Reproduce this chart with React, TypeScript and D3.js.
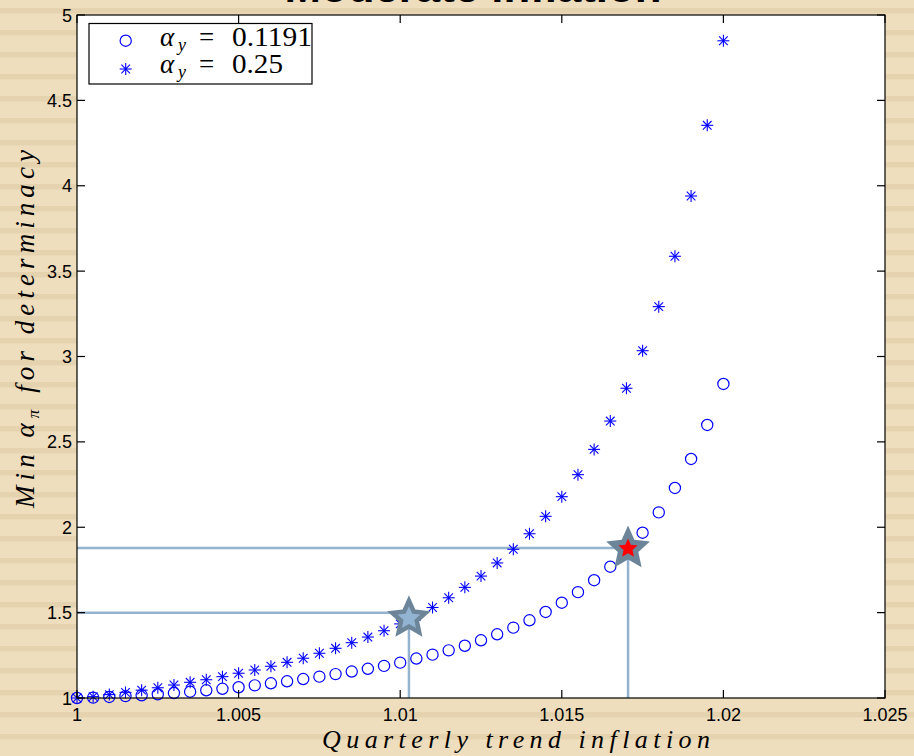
import * as d3 from 'd3';
import React from 'react';

// quarterly trend inflation grid
const trendInflation = [
  1.0, 1.0005, 1.001, 1.0015, 1.002, 1.0025, 1.003, 1.0035, 1.004, 1.0045,
  1.005, 1.0055, 1.006, 1.0065, 1.007, 1.0075, 1.008, 1.0085, 1.009, 1.0095,
  1.01, 1.0105, 1.011, 1.0115, 1.012, 1.0125, 1.013, 1.0135, 1.014, 1.0145,
  1.015, 1.0155, 1.016, 1.0165, 1.017, 1.0175, 1.018, 1.0185, 1.019, 1.0195, 1.02,
];

// min alpha_pi, alpha_y = 0.1191
const minAlphaPiLow = [
  1.0, 1.002, 1.006, 1.011, 1.016, 1.022, 1.029, 1.037, 1.045, 1.054,
  1.063, 1.074, 1.086, 1.098, 1.111, 1.125, 1.14, 1.155, 1.171, 1.188,
  1.207, 1.231, 1.254, 1.279, 1.306, 1.338, 1.373, 1.412, 1.455, 1.504,
  1.558, 1.62, 1.69, 1.769, 1.862, 1.968, 2.087, 2.23, 2.4, 2.599, 2.839,
];

// min alpha_pi, alpha_y = 0.25
const minAlphaPiHigh = [
  1.0, 1.008, 1.02, 1.033, 1.046, 1.06, 1.076, 1.092, 1.107, 1.125,
  1.145, 1.164, 1.186, 1.209, 1.233, 1.262, 1.291, 1.324, 1.357, 1.394,
  1.434, 1.479, 1.53, 1.587, 1.648, 1.714, 1.791, 1.871, 1.962, 2.064,
  2.179, 2.308, 2.456, 2.622, 2.814, 3.034, 3.292, 3.587, 3.94, 4.354, 4.849,
];

// highlighted calibrations
const markX = [1.01027, 1.01705];
const markY = [1.5, 1.878];
const markStarY = [1.467, 1.875];

const xTicks = [1, 1.005, 1.01, 1.015, 1.02, 1.025];
const xTickLabels = ['1', '1.005', '1.01', '1.015', '1.02', '1.025'];
const yTicks = [1, 1.5, 2, 2.5, 3, 3.5, 4, 4.5, 5];
const yTickLabels = ['1', '1.5', '2', '2.5', '3', '3.5', '4', '4.5', '5'];

const W = 914;
const H = 756;
const left = 77, right = 885, top = 15, bottom = 698;

const starPath = (cx: number, cy: number, R: number, ratio = 0.47) => {
  const pts: [number, number][] = [];
  for (let i = 0; i < 10; i++) {
    const r = i % 2 === 0 ? R : R * ratio;
    const a = -Math.PI / 2 + (i * Math.PI) / 5;
    pts.push([cx + r * Math.cos(a), cy + r * Math.sin(a)]);
  }
  return d3.line()(pts) + 'Z';
};

const Asterisk = ({ x, y }: { x: number; y: number }) => {
  const a = 6, d = 4.3;
  return (
    <g stroke="#0000ff" strokeWidth={1.1}>
      <line x1={x - a} y1={y} x2={x + a} y2={y} />
      <line x1={x} y1={y - a} x2={x} y2={y + a} />
      <line x1={x - d} y1={y - d} x2={x + d} y2={y + d} />
      <line x1={x - d} y1={y + d} x2={x + d} y2={y - d} />
    </g>
  );
};

const App = () => {
  const x = d3.scaleLinear().domain([1, 1.025]).range([left, right]);
  const y = d3.scaleLinear().domain([1, 5]).range([bottom, top]);
  const stripes = d3.range(0, 35);

  return (
    <div>
      <style>{'body{margin:0}'}</style>
      <svg width={W} height={H} style={{ display: 'block' }}>
        <rect width={W} height={H} fill="#eedebe" />
        {stripes.map((k) => (
          <rect key={k} x={0} y={8 + 22 * k - 22} width={W} height={5.5} fill="#e5d3af" />
        ))}

        <text x={473} y={2} textAnchor="middle" fontFamily="Liberation Sans, Arial, sans-serif"
          fontWeight="bold" fontSize={40} textLength={377} lengthAdjust="spacingAndGlyphs">
          Moderate inflation
        </text>

        <rect x={left} y={top} width={right - left} height={bottom - top} fill="#fff" />

        {/* guide lines */}
        {markX.map((mx, i) => (
          <g key={i} stroke="#93b3cf" strokeWidth={2.5} fill="none">
            <line x1={x(1)} y1={y(markY[i])} x2={x(mx)} y2={y(markY[i])} />
            <line x1={x(mx)} y1={y(1)} x2={x(mx)} y2={y(markY[i])} />
          </g>
        ))}

        {/* data */}
        {trendInflation.map((t, i) => (
          <circle key={'c' + i} cx={x(t)} cy={y(minAlphaPiLow[i])} r={5.6}
            fill="none" stroke="#0000ff" strokeWidth={1.2} />
        ))}
        {trendInflation.map((t, i) => (
          <Asterisk key={'s' + i} x={x(t)} y={y(minAlphaPiHigh[i])} />
        ))}

        {/* highlighted points */}
        {markX.map((mx, i) => (
          <g key={'m' + i}>
            <path d={starPath(x(mx), y(markStarY[i]), 23)} fill="#6c8599" />
            <path d={starPath(x(mx), y(markStarY[i]), i === 0 ? 12 : 10)}
              fill={i === 0 ? '#92b3d1' : '#ff0000'} />
          </g>
        ))}

        {/* axes box and ticks */}
        <g stroke="#000" strokeWidth={1.2}>
          {xTicks.map((t) => (
            <g key={'xt' + t}>
              <line x1={x(t)} x2={x(t)} y1={bottom} y2={bottom - 8} />
              <line x1={x(t)} x2={x(t)} y1={top} y2={top + 8} />
            </g>
          ))}
          {yTicks.map((t) => (
            <g key={'yt' + t}>
              <line x1={left} x2={left + 8} y1={y(t)} y2={y(t)} />
              <line x1={right} x2={right - 8} y1={y(t)} y2={y(t)} />
            </g>
          ))}
          <rect x={left} y={top} width={right - left} height={bottom - top} fill="none" />
        </g>

        <g fontFamily="Liberation Sans, Arial, sans-serif" fontSize={18} fill="#000">
          {xTicks.map((t, i) => (
            <text key={'xl' + t} x={x(t)} y={721} textAnchor="middle">{xTickLabels[i]}</text>
          ))}
          {yTicks.map((t, i) => (
            <text key={'yl' + t} x={72} y={y(t) + 6.5} textAnchor="end">{yTickLabels[i]}</text>
          ))}
        </g>

        {/* axis labels */}
        <text x={516} y={748} textAnchor="middle" fontFamily="Liberation Serif, serif"
          fontStyle="italic" fontSize={26} textLength={388} lengthAdjust="spacing">
          Quarterly trend inflation
        </text>
        <text transform="translate(34,329) rotate(-90)" textAnchor="middle"
          fontFamily="Liberation Serif, serif" fontStyle="italic" fontSize={27}
          textLength={358} lengthAdjust="spacing">
          <tspan>Min α</tspan>
          <tspan fontSize={17} dy={5}>π</tspan>
          <tspan dy={-5}> for determinacy</tspan>
        </text>

        {/* legend */}
        <rect x={89} y={23.5} width={223} height={60.5} fill="#fff" stroke="#000" strokeWidth={1.2} />
        <circle cx={125.7} cy={40.7} r={5.6} fill="none" stroke="#0000ff" strokeWidth={1.2} />
        <Asterisk x={125.7} y={69} />
        <g fontFamily="Liberation Serif, serif" fontSize={27} fill="#000">
          {[
            { by: 45.5, val: '0.1191', len: 80 },
            { by: 73, val: '0.25', len: 51 },
          ].map((e) => (
            <g key={e.val}>
              <text x={160} y={e.by} fontStyle="italic">α</text>
              <text x={178} y={e.by + 5} fontStyle="italic" fontSize={18}>y</text>
              <text x={199} y={e.by}>=</text>
              <text x={232} y={e.by} textLength={e.len} lengthAdjust="spacingAndGlyphs">{e.val}</text>
            </g>
          ))}
        </g>
      </svg>
    </div>
  );
};

export default App;
